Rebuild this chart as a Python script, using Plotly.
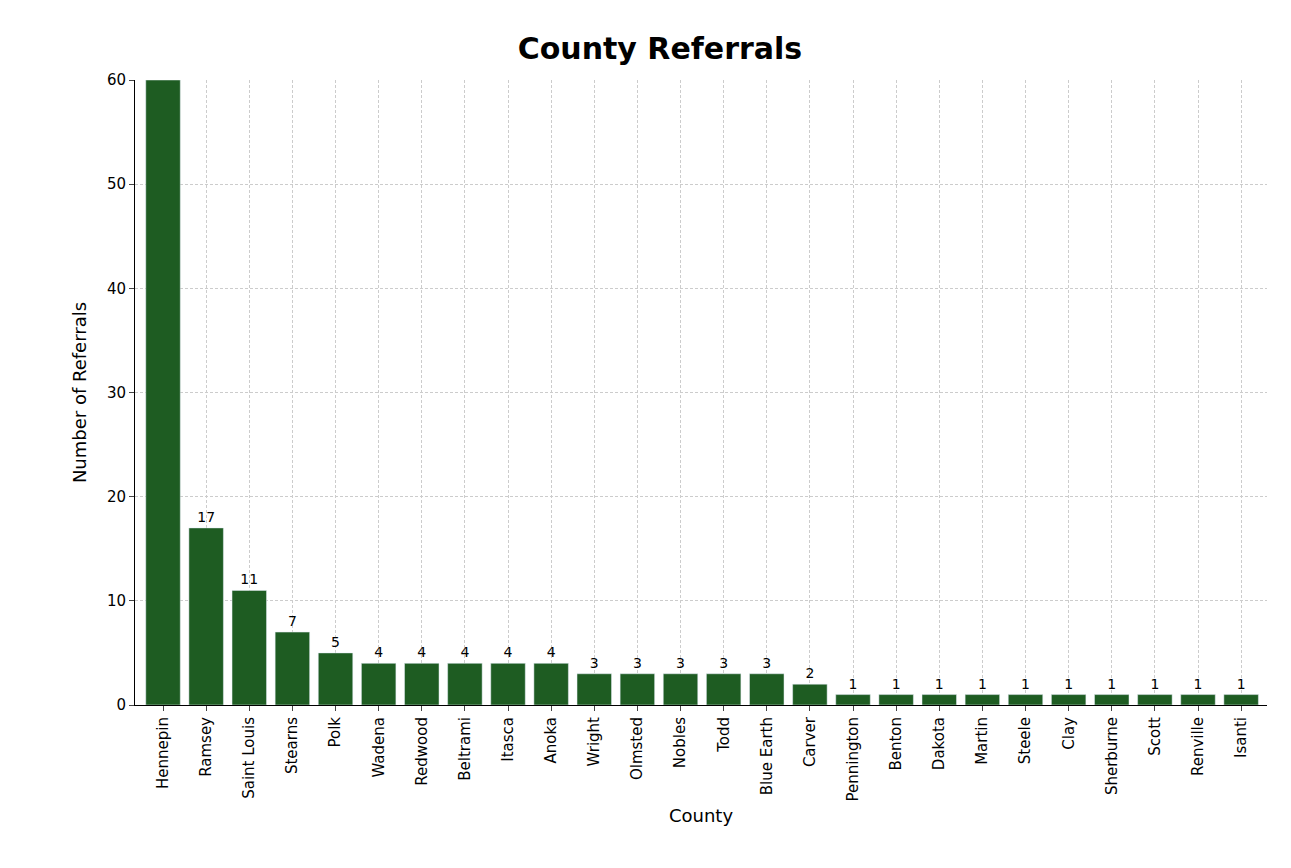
import plotly.graph_objects as go

counties = ["Hennepin", "Ramsey", "Saint Louis", "Stearns", "Polk", "Wadena", "Redwood",
            "Beltrami", "Itasca", "Anoka", "Wright", "Olmsted", "Nobles", "Todd",
            "Blue Earth", "Carver", "Pennington", "Benton", "Dakota", "Martin", "Steele",
            "Clay", "Sherburne", "Scott", "Renville", "Isanti"]
referrals = [60, 17, 11, 7, 5, 4, 4, 4, 4, 4, 3, 3, 3, 3, 3, 2, 1, 1, 1, 1, 1, 1, 1, 1, 1, 1]

# the top bar's label sits above the axis and is cut off in the original
labels = ["" if v >= 60 else str(v) for v in referrals]

fig = go.Figure(go.Bar(
    x=counties, y=referrals, text=labels, textposition="outside",
    textfont=dict(size=14, color="black"), marker_color="#1e5c22",
    width=0.8, cliponaxis=True,
))

fig.update_layout(
    width=1291, height=868,
    paper_bgcolor="white", plot_bgcolor="white",
    margin=dict(l=127, r=32, t=72, b=171),
    font=dict(family="DejaVu Sans", size=15, color="black"),
    title=dict(text="<b>County Referrals</b>", x=0.505, y=0.965, xanchor="center",
               font=dict(size=30)),
    showlegend=False,
)
fig.update_xaxes(title_text="County", tickangle=-90, showgrid=True,
                 gridcolor="#cccccc", griddash="3px,2px", showline=True,
                 linecolor="black", ticks="outside", ticklen=5,
                 range=[-0.65, 25.6], title_standoff=8, tickfont=dict(size=15))
fig.update_yaxes(title_text="Number of Referrals", range=[0, 60], dtick=10,
                 showgrid=True, gridcolor="#cccccc", griddash="3px,2px",
                 showline=True, linecolor="black", ticks="outside", ticklen=5,
                 zeroline=False, tickfont=dict(size=15))

fig.write_html("out.html")
